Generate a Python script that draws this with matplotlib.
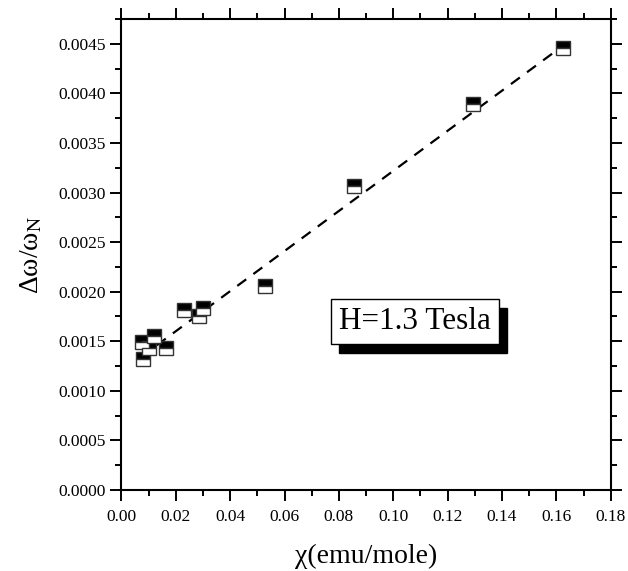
import matplotlib.pyplot as plt
import matplotlib.transforms as mtransforms
from matplotlib.ticker import MultipleLocator, FormatStrFormatter

# data
chi = [0.0075, 0.0080, 0.0101, 0.0120, 0.0163, 0.0231, 0.0285, 0.0301,
       0.0528, 0.0854, 0.1294, 0.1625]
dw = [0.00149, 0.00132, 0.00143, 0.00155, 0.00143, 0.00182, 0.00175, 0.00184,
      0.00206, 0.00307, 0.00389, 0.00446]
# dashed fit line end points
fit_x = [0.0071, 0.1624]
fit_y = [0.00134, 0.00448]

plt.rcParams['font.family'] = ['Liberation Serif', 'DejaVu Serif']
plt.rcParams['mathtext.fontset'] = 'stix'

fig = plt.figure(figsize=(6.28, 5.71), dpi=100)
ax = fig.add_axes([0.1933, 0.1419, 0.7792, 0.8248])

ax.plot(fit_x, fit_y, '--', color='black', lw=1.6, dashes=(5, 4), zorder=2)
ax.plot(chi, dw, 's', ms=9.5, fillstyle='top', markerfacecolor='black',
        markerfacecoloralt='white', markeredgecolor='#333333', mew=1.0,
        linestyle='none', zorder=3)

ax.set_xlim(0, 0.18)
ax.set_ylim(0, 0.00475)
ax.xaxis.set_major_locator(MultipleLocator(0.02))
ax.xaxis.set_minor_locator(MultipleLocator(0.01))
ax.yaxis.set_major_locator(MultipleLocator(0.0005))
ax.yaxis.set_minor_locator(MultipleLocator(0.00025))
ax.xaxis.set_major_formatter(FormatStrFormatter('%.2f'))
ax.yaxis.set_major_formatter(FormatStrFormatter('%.4f'))

ax.tick_params(which='both', direction='out', top=True, right=True,
               width=1.4, labelsize=12.5)
ax.tick_params(which='major', length=8)
ax.tick_params(axis='x', which='major', pad=6)
ax.tick_params(which='minor', length=4.5)
for s in ax.spines.values():
    s.set_linewidth(1.5)

ax.set_xlabel('χ(emu/mole)', fontsize=20, labelpad=13)
ax.set_ylabel(r'Δω/ω$_{\rm N}$', fontsize=20, labelpad=10)

# label with drop shadow
tx, ty = 0.445, 0.357
shadow = mtransforms.offset_copy(ax.transAxes, fig=fig, x=6, y=-6, units='points')
ax.text(tx, ty, 'H=1.3 Tesla', transform=shadow, fontsize=22.5, color='black',
        va='center', ha='left',
        bbox=dict(boxstyle='square,pad=0.26', fc='black', ec='black', lw=1))
ax.text(tx, ty, 'H=1.3 Tesla', transform=ax.transAxes, fontsize=22.5,
        va='center', ha='left',
        bbox=dict(boxstyle='square,pad=0.26', fc='white', ec='black', lw=1))

plt.savefig('out.png', dpi=100)
